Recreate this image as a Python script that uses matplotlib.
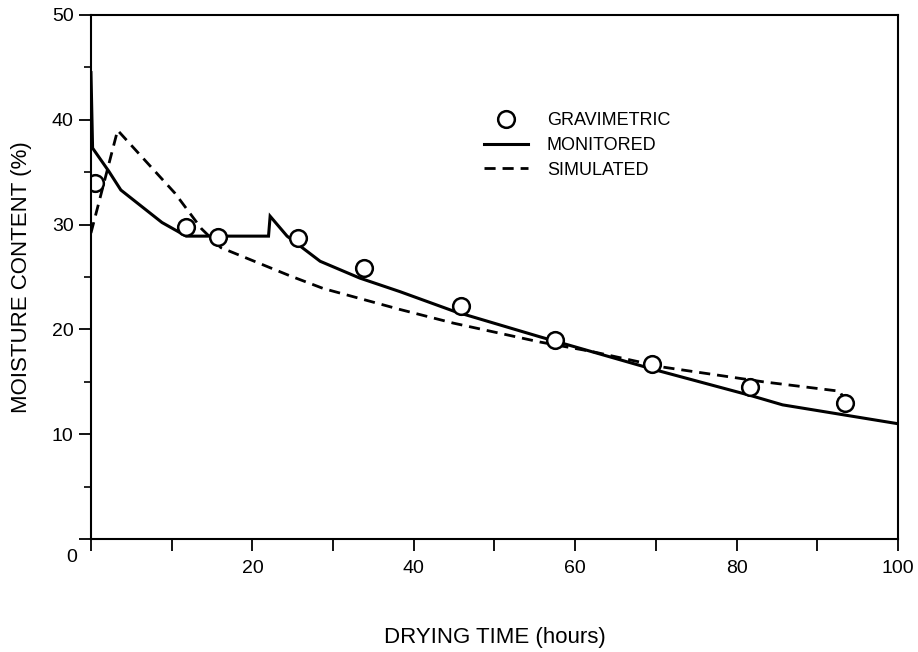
import matplotlib
matplotlib.use("Agg")
import matplotlib.pyplot as plt
from matplotlib.lines import Line2D

# gravimetric samples (hours, %)
grav_t = [0.5, 11.8, 15.8, 25.6, 33.8, 45.8, 57.5, 69.5, 81.7, 93.4]
grav_mc = [34.0, 29.8, 28.8, 28.7, 25.9, 22.2, 19.0, 16.7, 14.5, 13.0]

# monitored moisture content
mon_t = [0.0, 0.2, 2.2, 3.7, 8.8, 11.8, 22.0, 22.2, 24.3, 28.4, 33.3,
         38.3, 45.1, 55.6, 70.1, 81.7, 85.7, 100.0]
mon_mc = [44.5, 37.3, 35.1, 33.3, 30.2, 28.9, 28.9, 30.8, 28.9, 26.5, 24.9,
          23.6, 21.7, 19.3, 16.1, 13.7, 12.8, 11.0]

# simulated moisture content
sim_t = [0.0, 3.3, 10.4, 13.7, 16.1, 24.7, 28.8, 38.3, 44.9, 55.6, 62.0,
         70.9, 83.3, 92.8, 93.2]
sim_mc = [29.2, 39.0, 33.0, 29.6, 27.8, 25.1, 23.9, 21.9, 20.6, 18.8, 17.9,
          16.4, 15.0, 14.1, 13.5]

x_ticks = list(range(0, 101, 10))
x_labels = ["", "", "20", "", "40", "", "60", "", "80", "", "100"]
y_ticks = list(range(0, 51, 10))
y_labels = ["", "10", "20", "30", "40", "50"]

plt.rcParams["font.family"] = ["Liberation Sans", "DejaVu Sans"]

fig = plt.figure(figsize=(9.18, 6.52), dpi=100)
ax = fig.add_axes([0.0991, 0.1733, 0.8791, 0.8037])

ax.plot(mon_t, mon_mc, color="black", lw=2.2, solid_joinstyle="miter")
ax.plot(sim_t, sim_mc, color="black", lw=2.0, linestyle=(0, (4, 2.5)))
ax.plot(grav_t, grav_mc, linestyle="none", marker="o", markersize=12,
        markerfacecolor="white", markeredgecolor="black", markeredgewidth=1.8)

ax.set_xlim(0, 100)
ax.set_ylim(0, 50)
ax.set_xticks(x_ticks)
ax.set_xticklabels(x_labels)
ax.set_yticks(y_ticks)
ax.set_yticklabels(y_labels)
ax.set_yticks(list(range(5, 50, 10)), minor=True)
ax.tick_params(axis="both", which="major", direction="out", length=8.5, width=1.3,
               labelsize=14, pad=4)
ax.tick_params(axis="x", which="major", pad=6.5)
ax.tick_params(axis="y", which="minor", direction="out", length=5, width=1.2)
for sp in ax.spines.values():
    sp.set_linewidth(1.5)
ax.text(-0.017, -0.02, "0", transform=ax.transAxes, ha="right", va="top", fontsize=14)

ax.set_xlabel("DRYING TIME (hours)", fontsize=16, labelpad=36)
ax.set_ylabel("MOISTURE CONTENT (%)", fontsize=16, labelpad=14)

handles = [
    Line2D([], [], linestyle="none", marker="o", markersize=12, markerfacecolor="white",
           markeredgecolor="black", markeredgewidth=1.8),
    Line2D([], [], color="black", lw=2.2),
    Line2D([], [], color="black", lw=2.0, linestyle=(0, (4, 2.5))),
]
ax.legend(handles, ["GRAVIMETRIC", "MONITORED", "SIMULATED"], loc="upper left",
          bbox_to_anchor=(0.4665, 0.845), frameon=False, fontsize=13,
          handlelength=2.45, handletextpad=1.05, labelspacing=0.42)

fig.savefig("out.png", dpi=100)
